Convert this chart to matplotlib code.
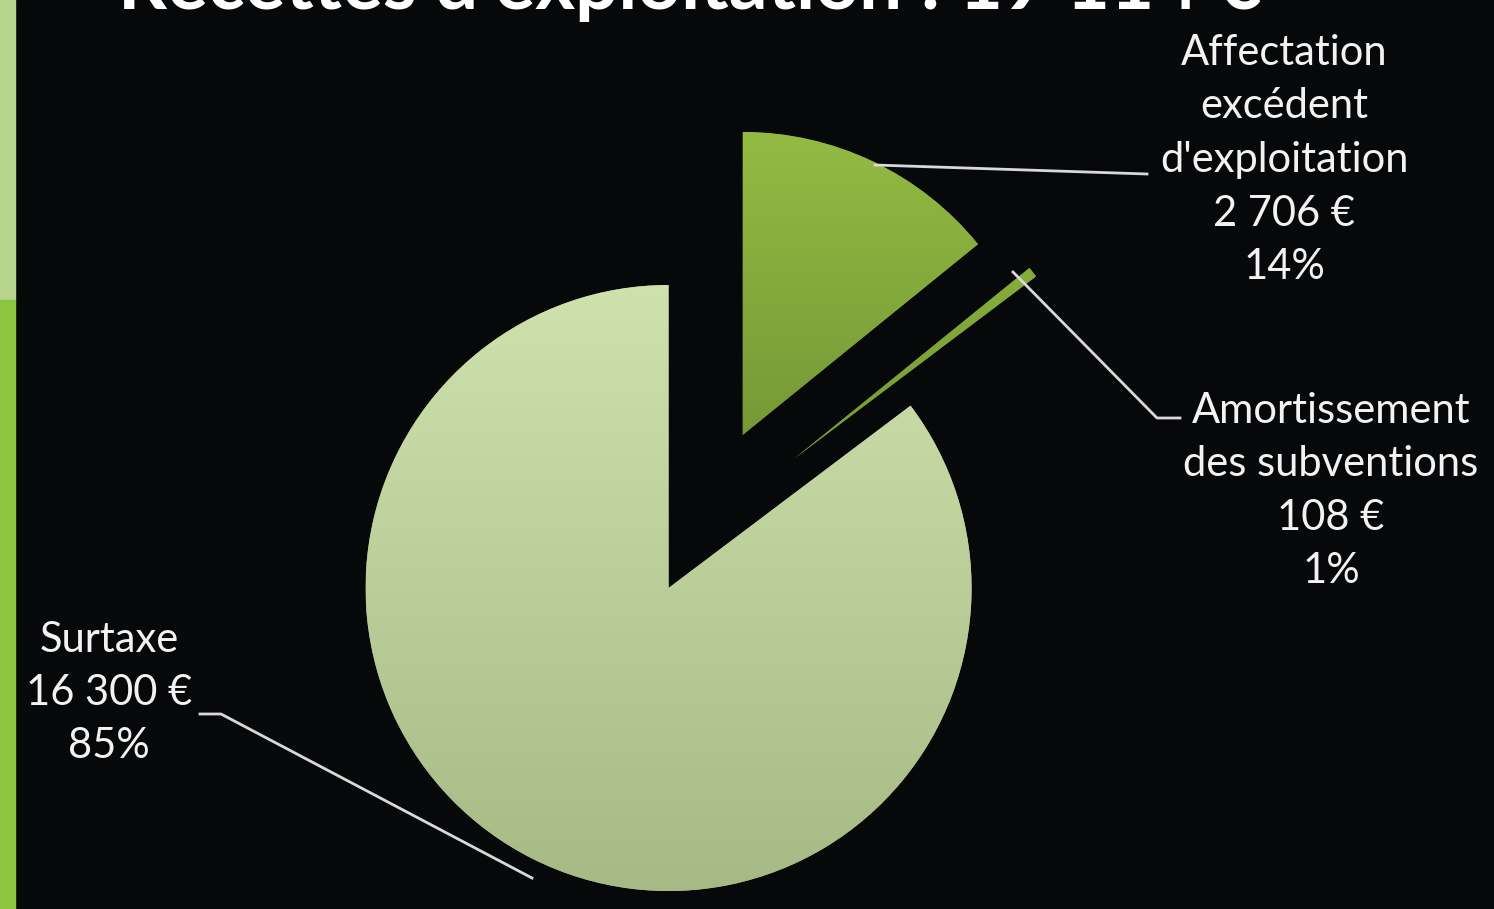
import numpy as np
import matplotlib
matplotlib.use("Agg")
import matplotlib.pyplot as plt

# data
labels = ["Affectation\nexcédent\nd'exploitation", "Amortissement\ndes subventions", "Surtaxe"]
values = [2706, 108, 16300]
title_text = "Recettes d'exploitation"

total = sum(values)


def euros(v):
    return f"{v:,}".replace(",", " ") + " €"


# colours (top / bottom of each gradient)
top_cols = ["#93bb43", "#86ad3c", "#cfe1ad"]
bot_cols = ["#769936", "#779a34", "#a7b985"]
bg = "#07080a"
txt_col = "#f2f2f2"
line_col = "#d9d9d9"

W, H = 1494, 909
fig = plt.figure(figsize=(W / 100, H / 100), dpi=100)
fig.patch.set_facecolor(bg)
ax = fig.add_axes([0, 0, 1, 1])
ax.set_facecolor(bg)

# pie, y axis runs downwards so counterclock=True looks clockwise
wedges, _ = ax.pie(values, explode=[113, 127, 57], center=(694, 537), radius=303,
                   startangle=-90, counterclock=True, colors=bot_cols,
                   wedgeprops=dict(linewidth=0))

for w, c1, c2 in zip(wedges, top_cols, bot_cols):
    ext = w.get_path().get_extents()
    a = np.array(matplotlib.colors.to_rgb(c1))
    b = np.array(matplotlib.colors.to_rgb(c2))
    t = np.linspace(0, 1, 256)[:, None, None]
    grad = a * (1 - t) + b * t
    im = ax.imshow(grad, extent=(ext.x0, ext.x1, ext.y1, ext.y0), origin="upper",
                   aspect="auto", zorder=2, interpolation="bilinear")
    im.set_clip_path(w)

ax.set_xlim(0, W)
ax.set_ylim(H, 0)
ax.axis("off")

# green stripe on the left
ax.add_patch(plt.Rectangle((0, 0), 15, 300, color="#b5d58c", zorder=1))
ax.add_patch(plt.Rectangle((0, 300), 15, H - 300, color="#8dc63f", zorder=1))

# title, mostly cut off at the top (as in the original)
ax.text(690, 9, f"{title_text} : {euros(total)}", color="white", fontsize=55,
        fontweight="bold", family="Lato", ha="center", va="baseline")

# labels
lab_kw = dict(color=txt_col, fontsize=30, family="Lato", ha="center", va="center",
              linespacing=1.5)
pct = [f"{round(v / total * 100)}%" for v in values]

ax.text(1284, 160, f"{labels[0]}\n{euros(values[0])}\n{pct[0]}", **lab_kw)
ax.text(1331, 491, f"{labels[1]}\n{euros(values[1])}\n{pct[1]}", **lab_kw)
ax.text(109, 693, f"{labels[2]}\n{euros(values[2])}\n{pct[2]}", **lab_kw)

# leader lines
ax.plot([875, 1147], [165, 174], color=line_col, lw=2, zorder=3)
ax.plot([1013, 1157, 1180], [272, 418, 418], color=line_col, lw=2, zorder=3)
ax.plot([200, 221, 532], [714, 714, 878], color=line_col, lw=2, zorder=3)

fig.savefig("out.png", dpi=100, facecolor=bg)
